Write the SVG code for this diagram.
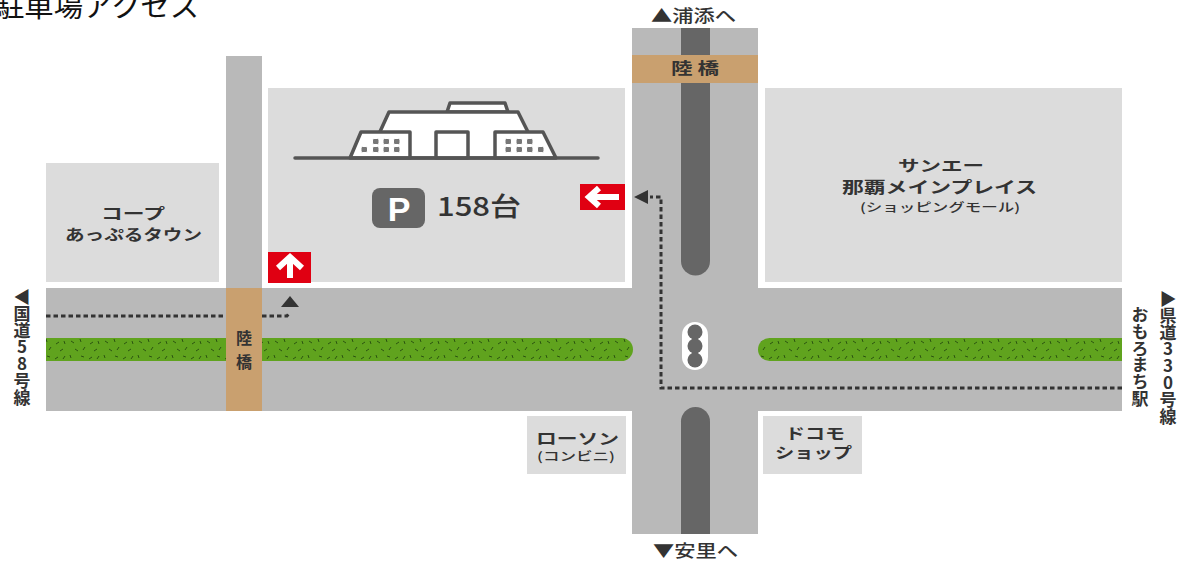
<svg xmlns="http://www.w3.org/2000/svg" width="1189" height="562" viewBox="0 0 1189 562">
<style>
text{font-family:"Noto Sans CJK JP","Noto Sans",sans-serif;fill:#333;font-weight:700}
.c{text-anchor:middle}
.s{font-weight:500}
.lot{fill:#dcdcdc}
.road{fill:#b9b9b9}
.med{fill:#666}
.br{fill:#c9a06f}
.v{writing-mode:vertical-rl;text-orientation:upright;font-size:17px;letter-spacing:-.2px}
.dot{fill:none;stroke:#333;stroke-width:3;stroke-dasharray:4.500 3}
.bld{fill:#fff;stroke:#555;stroke-width:3.500;stroke-linejoin:round}
.win{fill:#777;stroke:#fff;stroke-width:1}
.ar{fill:none;stroke:#fff;stroke-width:6;stroke-linejoin:miter}
.red{fill:#e00012}
</style>
<defs>
<pattern id="grass" width="34" height="23" patternUnits="userSpaceOnUse" y="338">
<rect width="34" height="23" fill="#60a31e"/>
<path d="M3 3l3 2M12 1l1 3M22 6l3-2M30 3l1 3M7 11l3 2M17 9l-2 3M26 13l3-2M2 17l1 3M13 18l3 1M21 21l3-2M31 18l-2 3" stroke="#2b5410" stroke-width="1" fill="none"/>
</pattern>
</defs>
<g id="title"><text x="-5" y="17" font-size="28" textLength="204" lengthAdjust="spacingAndGlyphs" style="font-weight:400;fill:#111">駐車場アクセス</text></g>
<g id="roads">
<rect class="road" x="226" y="56" width="36" height="232"/>
<rect class="road" x="46" y="288" width="1076" height="123"/>
<rect class="road" x="632" y="28" width="126" height="506"/>
<path class="med" d="M681 28h29v233a14.500 14.500 0 0 1-29 0z"/>
<path class="med" d="M681 534V421.500a14.500 14.500 0 0 1 29 0V534z"/>
<path fill="url(#grass)" d="M46 338H621.500a11.500 11.500 0 0 1 0 23H46z"/>
<path fill="url(#grass)" d="M1122 338H769.500a11.500 11.500 0 0 0 0 23H1122z"/>
</g>
<g id="bridge-top"><rect class="br" x="632" y="55" width="126" height="28"/><text x="671" y="74" font-size="16" textLength="48" lengthAdjust="spacingAndGlyphs" xml:space="preserve">陸 橋</text></g>
<g id="bridge-left"><rect class="br" x="226" y="288" width="36" height="123"/><text class="c" x="244" y="344" font-size="16">陸</text><text class="c" x="244" y="368" font-size="16">橋</text></g>
<g id="parking">
<rect class="lot" x="268" y="88" width="357" height="194"/>
<path class="bld" d="M450 103H505L508 112H447Z"/>
<path class="bld" d="M389 112H518L530 136V158H378V136Z"/>
<path class="bld" d="M361 132H410V158H350Z"/>
<path class="bld" d="M495 132H543L556 158H495Z"/>
<rect class="bld" x="436" y="132" width="32" height="26"/>
<path d="M295 158H598" stroke="#555" stroke-width="3.500" stroke-linecap="round"/>
<g class="win">
<rect x="372.500" y="138.500" width="6.500" height="6" rx="1.500"/><rect x="383" y="138.500" width="6.500" height="6" rx="1.500"/><rect x="393.500" y="138.500" width="6.500" height="6" rx="1.500"/>
<rect x="361" y="146.500" width="6.500" height="6" rx="1.500"/><rect x="372.500" y="146.500" width="6.500" height="6" rx="1.500"/><rect x="383" y="146.500" width="6.500" height="6" rx="1.500"/><rect x="393.500" y="146.500" width="6.500" height="6" rx="1.500"/>
<rect x="505" y="138.500" width="6.500" height="6" rx="1.500"/><rect x="516" y="138.500" width="6.500" height="6" rx="1.500"/><rect x="526.500" y="138.500" width="6.500" height="6" rx="1.500"/>
<rect x="505" y="146.500" width="6.500" height="6" rx="1.500"/><rect x="516" y="146.500" width="6.500" height="6" rx="1.500"/><rect x="526.500" y="146.500" width="6.500" height="6" rx="1.500"/><rect x="537.500" y="146.500" width="6.500" height="6" rx="1.500"/>
</g>
<rect x="372" y="188" width="53" height="40" rx="8" fill="#666"/>
<text class="c" x="399" y="221" font-size="34" style="fill:#fff;font-weight:900;font-family:'Liberation Sans',sans-serif">P</text>
<text x="437" y="216" font-size="26" textLength="84" lengthAdjust="spacingAndGlyphs" class="s">158台</text>
</g>
<g id="coop"><rect class="lot" x="46" y="163" width="173" height="119"/>
<text x="101" y="219" font-size="15" textLength="64" lengthAdjust="spacingAndGlyphs">コープ</text>
<text x="65" y="240" font-size="15" textLength="137" lengthAdjust="spacingAndGlyphs">あっぷるタウン</text></g>
<g id="sanae"><rect class="lot" x="765" y="88" width="357" height="194"/>
<text x="898" y="171" font-size="15" textLength="86" lengthAdjust="spacingAndGlyphs">サンエー</text>
<text x="842" y="193" font-size="16" textLength="195" lengthAdjust="spacingAndGlyphs">那覇メインプレイス</text>
<text x="860" y="212" font-size="12" textLength="160" lengthAdjust="spacingAndGlyphs" class="s">(ショッピングモール)</text></g>
<g id="lawson"><rect class="lot" x="527" y="416" width="99" height="58"/>
<text x="536" y="444" font-size="15" textLength="83" lengthAdjust="spacingAndGlyphs">ローソン</text>
<text x="537" y="461" font-size="12" textLength="78" lengthAdjust="spacingAndGlyphs" class="s">(コンビニ)</text></g>
<g id="docomo"><rect class="lot" x="763" y="416" width="99" height="58"/>
<text x="785" y="439" font-size="15" textLength="60" lengthAdjust="spacingAndGlyphs">ドコモ</text>
<text x="775" y="458" font-size="15" textLength="77" lengthAdjust="spacingAndGlyphs">ショップ</text></g>
<g id="signal"><rect x="682" y="322" width="26" height="48" rx="13" fill="#fff"/>
<circle class="med" cx="695" cy="332" r="7.500"/><circle class="med" cx="695" cy="346" r="7.500"/><circle class="med" cx="695" cy="360" r="7.500"/></g>
<g id="entrance-north"><rect class="red" x="268" y="252" width="43" height="31"/>
<path class="ar" d="M290 278V259M278 268L290 257L302 268"/></g>
<g id="entrance-east"><rect class="red" x="580" y="184" width="45" height="26"/>
<path class="ar" d="M619 197H591M599 188L589 197L599 206"/></g>
<g id="connectors">
<path class="dot" d="M46 316H226M262 316H287L290 312"/>
<polygon fill="#333" points="290,296 299,307 281,307"/>
<path class="dot" d="M1122 388H661V197H650"/>
<polygon fill="#333" points="634,197 648,190 648,204"/>
</g>
<g id="label-north"><text x="651" y="22" font-size="17" textLength="85" lengthAdjust="spacingAndGlyphs" class="s">▲浦添へ</text></g>
<g id="label-south"><text x="653" y="557" font-size="17" textLength="85" lengthAdjust="spacingAndGlyphs" class="s">▼安里へ</text></g>
<g id="label-west"><text class="v" x="22" y="288">◀国道58号線</text></g>
<g id="label-east"><text class="v" x="1168" y="290">▶県道330号線</text><text class="v" x="1140" y="306">おもろまち駅</text></g>
</svg>
